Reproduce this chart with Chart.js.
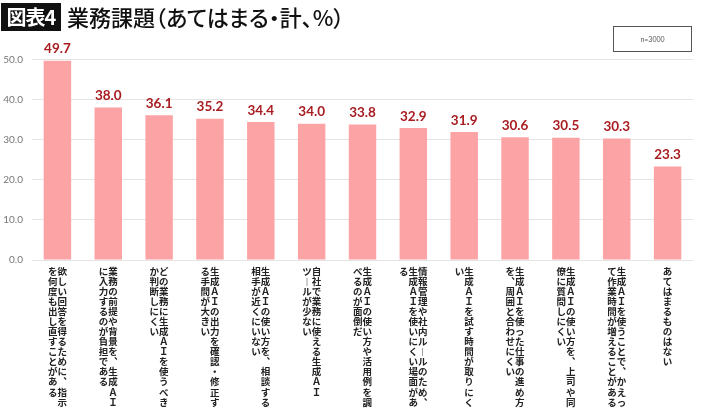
<!DOCTYPE html>
<html>
<head>
<meta charset="utf-8">
<script src="https://cdn.jsdelivr.net/npm/chart.js@4"></script>
<style>
  html, body { margin: 0; padding: 0; background: #fff; }
  #wrap { position: relative; width: 710px; height: 416px; overflow: hidden; }
  #chartBox { position: absolute; left: 0; top: 0; width: 710px; height: 416px; }
  #tag { position: absolute; left: 1px; top: 3px; width: 60px; height: 28px; background: #111; color: #fff;
         font: 700 20px "Noto Sans CJK JP", sans-serif; line-height: 28px; text-align: center; letter-spacing: -1px; }
  #title { position: absolute; left: 67px; top: 0px; font: 500 22px "Noto Sans CJK JP", sans-serif; color: #111;
           line-height: 33px; font-feature-settings: "palt"; white-space: nowrap; }
  #nbox { position: absolute; left: 613px; top: 26px; width: 77px; height: 24px; border: 1px solid #555;
          font: 400 7px "Lato", sans-serif; color: #555; line-height: 24px; text-align: center; }
</style>
</head>
<body>
<div id="wrap">
  <div id="chartBox"><canvas id="c"></canvas></div>
  <div id="tag">図表4</div>
  <div id="title">業務課題（あてはまる・計、%）</div>
  <div id="nbox">n=3000</div>
</div>
<script>
// Category labels, each given as its vertical columns (read right to left)
const categories = [
  ["欲しい回答を得るために、指示", "を何度も出し直すことがある"],
  ["業務の前提や背景を、生成ＡＩ", "に入力するのが負担である"],
  ["どの業務に生成ＡＩを使うべき", "か判断しにくい"],
  ["生成ＡＩの出力を確認・修正す", "る手間が大きい"],
  ["生成ＡＩの使い方を、相談する", "相手が近くにいない"],
  ["自社で業務に使える生成ＡＩ", "ツールが少ない"],
  ["生成ＡＩの使い方や活用例を調", "べるのが面倒だ"],
  ["情報管理や社内ルールのため、", "生成ＡＩを使いにくい場面があ", "る"],
  ["生成ＡＩを試す時間が取りにく", "い"],
  ["生成ＡＩを使った仕事の進め方", "を、周囲と合わせにくい"],
  ["生成ＡＩの使い方を、上司や同", "僚に質問しにくい"],
  ["生成ＡＩを使うことで、かえっ", "て作業時間が増えることがある"],
  ["あてはまるものはない"]
];
const values = [49.7, 38.0, 36.1, 35.2, 34.4, 34.0, 33.8, 32.9, 31.9, 30.6, 30.5, 30.3, 23.3];
const yTicks = [0, 10, 20, 30, 40, 50];

// Build vertical (top-to-bottom, right-to-left) labels as rows of characters
const vmap = { "、": "︑", "ー": "︱" };
function verticalRows(cols) {
  const chars = cols.map(c => Array.from(c).map(ch => vmap[ch] || ch));
  const n = Math.max(...chars.map(c => c.length));
  const rows = [];
  for (let i = 0; i < n; i++) {
    let row = "";
    for (let j = chars.length - 1; j >= 0; j--) row += (chars[j][i] || "\u3000");
    rows.push(row);
  }
  return rows;
}
const labels = categories.map(verticalRows);

const valueLabels = {
  id: "valueLabels",
  afterDatasetsDraw(chart) {
    const ctx = chart.ctx;
    const meta = chart.getDatasetMeta(0);
    ctx.save();
    ctx.font = "700 13.5px Lato, sans-serif";
    ctx.fillStyle = "#a81c20";
    ctx.textAlign = "center";
    ctx.textBaseline = "bottom";
    meta.data.forEach((bar, i) => {
      ctx.fillText(values[i].toFixed(1), bar.x, bar.y - 5);
    });
    ctx.restore();
  }
};

new Chart(document.getElementById("c"), {
  type: "bar",
  data: {
    labels: labels,
    datasets: [{
      data: values,
      backgroundColor: "#fca3a5",
      borderWidth: 0,
      barPercentage: 0.54,
      categoryPercentage: 1.0
    }]
  },
  options: {
    responsive: true,
    maintainAspectRatio: false,
    animation: false,
    layout: { padding: { top: 59.5, left: 2, right: 17, bottom: 3 } },
    plugins: { legend: { display: false }, tooltip: { enabled: false }, title: { display: false } },
    scales: {
      x: {
        grid: { display: false, drawTicks: false },
        border: { display: false },
        ticks: {
          autoSkip: false, maxRotation: 0, minRotation: 0, padding: 6,
          color: "#222",
          font: { family: "'Noto Sans CJK JP', sans-serif", size: 9.5, weight: 700, lineHeight: 1.06 }
        }
      },
      y: {
        min: 0, max: 50,
        afterBuildTicks(scale) { scale.ticks = yTicks.map(v => ({ value: v })); },
        afterFit(scale) { scale.width = 30; },
        grid: { color: "#e4e4e4", lineWidth: 1, drawTicks: false },
        border: { display: false },
        ticks: {
          padding: 9, color: "#777",
          font: { family: "Lato, sans-serif", size: 10 },
          callback: v => Number(v).toFixed(1)
        }
      }
    }
  },
  plugins: [valueLabels]
});
</script>
</body>
</html>
